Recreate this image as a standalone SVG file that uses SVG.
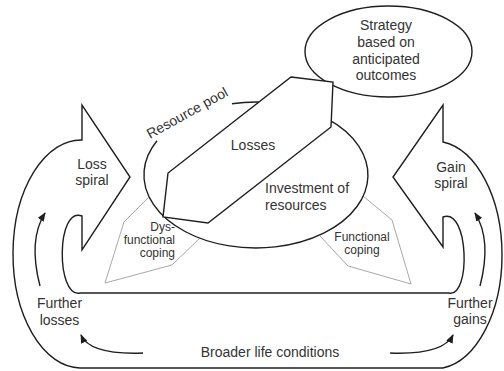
<svg xmlns="http://www.w3.org/2000/svg" width="504" height="371" viewBox="0 0 504 371">
<style>
.ln{fill:none;stroke:#1e1e1e;stroke-width:1.4;stroke-linejoin:miter}
.wf{fill:#fff;stroke:#1e1e1e;stroke-width:1.4;stroke-linejoin:miter}
.gr{fill:none;stroke:#a8a8a8;stroke-width:1}
.t{font-family:"Liberation Sans",Arial,sans-serif;font-size:14px;fill:#333}
.s{font-family:"Liberation Sans",Arial,sans-serif;font-size:12px;fill:#333}
.m{text-anchor:middle}
.e{text-anchor:end}
</style>
<defs>
<marker id="ah" markerUnits="userSpaceOnUse" markerWidth="9" markerHeight="7" refX="8" refY="3.5" orient="auto">
<path d="M0,0 L9,3.5 L0,7 Z" fill="#1e1e1e"/>
</marker>
</defs>
<rect width="504" height="371" fill="#fff"/>

<g id="strategy">
<ellipse cx="388.5" cy="51.5" rx="83.5" ry="45.5" class="wf"/>
<text class="t m" x="386" y="30">Strategy</text>
<text class="t m" x="386" y="47">based on</text>
<text class="t m" x="386" y="63.5">anticipated</text>
<text class="t m" x="386" y="80">outcomes</text>
</g>

<g id="band">
<path class="ln" d="M80,293 L449,293"/>
<path class="ln" d="M443,368 L80,368"/>
</g>

<g id="loss-spiral">
<path class="ln" d="M80,368 A68,114 0 0 1 82,140 L82,105 L130,177 L82,250 L82,216 C56,206 56,298 80,293"/>
<text class="t m" x="92" y="169">Loss</text>
<text class="t m" x="92" y="185">spiral</text>
</g>

<g id="gain-spiral">
<path class="ln" d="M449,293 C471,298 469,207 443,217 L443,247 L393,177 L443,105 L443,142 A68,114 0 0 1 443,368"/>
<text class="t m" x="451" y="172">Gain</text>
<text class="t m" x="451" y="188">spiral</text>
</g>

<g id="dysfunctional-coping">
<polyline class="gr" points="148,198 124,222 105,283 172,265 200,238"/>
<text class="s e" x="175" y="231">Dys-</text>
<text class="s e" x="175" y="244">functional</text>
<text class="s e" x="175" y="257">coping</text>
</g>

<g id="functional-coping">
<polyline class="gr" points="363,196 392,220 411,284 348,266 320,236"/>
<text class="s m" x="362" y="241">Functional</text>
<text class="s m" x="362" y="254">coping</text>
</g>

<g id="resource-pool">
<path class="ln" d="M232,103.7 A112,73 0 1 1 157,140.8"/>
<text class="t" x="150" y="139" transform="rotate(-29 150 139)">Resource pool</text>
<text class="t" x="265" y="193">Investment of</text>
<text class="t" x="265" y="210">resources</text>
</g>

<g id="losses">
<polygon class="wf" points="291,77 333,82 331,127 208,223 163,217 168,173"/>
<text class="t m" x="253" y="150">Losses</text>
</g>

<g id="further-losses">
<text class="t m" x="59.5" y="308">Further</text>
<text class="t m" x="59.5" y="325">losses</text>
</g>
<g id="further-gains">
<text class="t m" x="470" y="308">Further</text>
<text class="t m" x="470" y="324">gains</text>
</g>
<g id="broader-life-conditions">
<text class="t m" x="270" y="357">Broader life conditions</text>
</g>

<g id="connectors">
<path class="ln" d="M40,286 Q28,240 45,213" marker-end="url(#ah)"/>
<path class="ln" d="M480,286 Q492,240 475,213" marker-end="url(#ah)"/>
<path class="ln" d="M143,353 Q90,355 81,335" marker-end="url(#ah)"/>
<path class="ln" d="M390,353 Q443,355 453,335" marker-end="url(#ah)"/>
</g>
</svg>
